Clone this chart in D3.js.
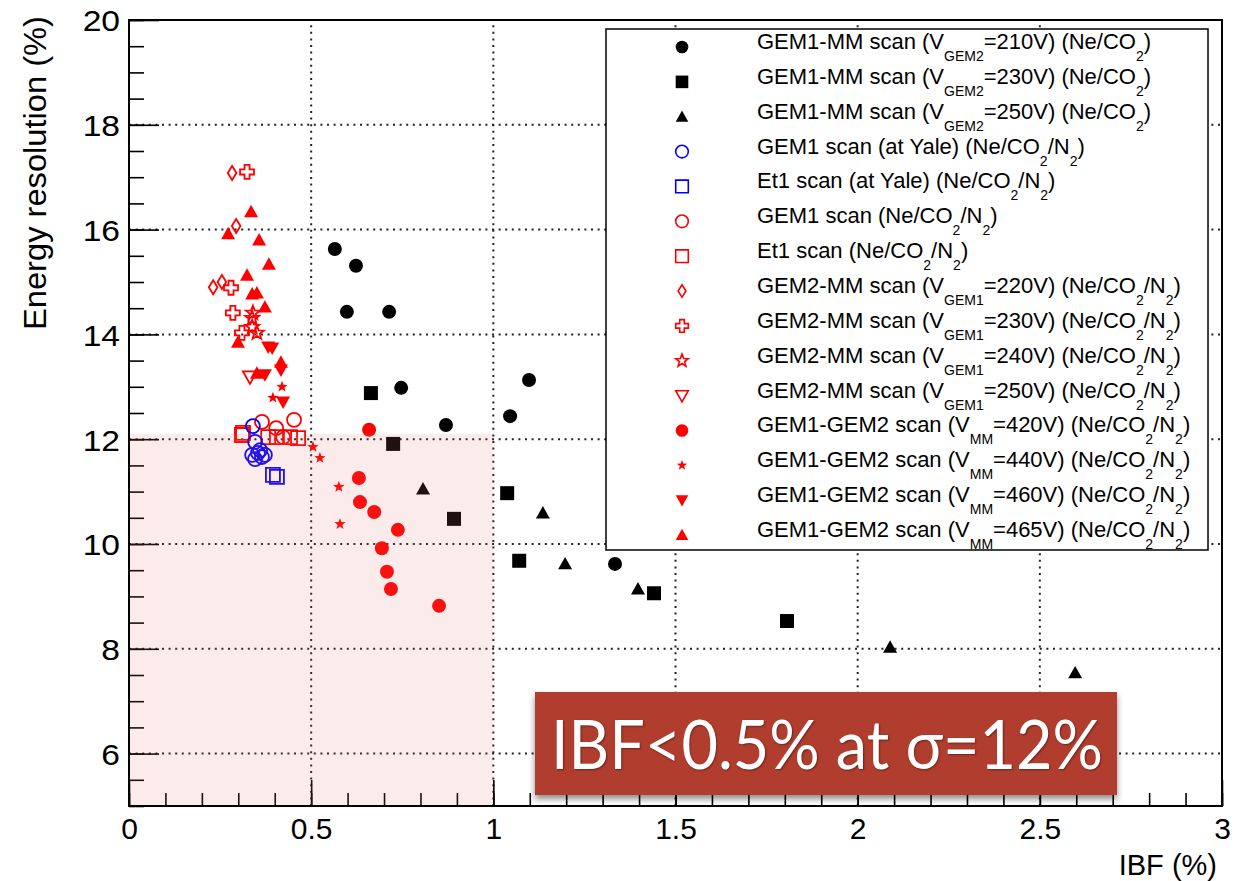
<!DOCTYPE html>
<html><head><meta charset="utf-8">
<script src="https://cdn.jsdelivr.net/npm/d3@7"></script>
<style>body{margin:0;background:#fff}svg{display:block}</style>
</head><body><svg id="c" width="1244" height="881"></svg>
<script>
// ---------- data ----------
const xTicks = [0, 0.5, 1, 1.5, 2, 2.5, 3];
const xTickLabels = ["0", "0.5", "1", "1.5", "2", "2.5", "3"];
const yTicks = [6, 8, 10, 12, 14, 16, 18, 20];
const yTickLabels = ["6", "8", "10", "12", "14", "16", "18", "20"];
const xTitle = "IBF (%)";
const yTitle = "Energy resolution (%)";
const boxText = "IBF<0.5% at \u03C3=12%";
const goodRegion = [[0, 5], [1, 12.1]];

const gem1mm210 = [[0.565,15.63],[0.623,15.31],[0.598,14.43],[0.714,14.43],[0.747,12.98],[0.870,12.27],[1.046,12.44],[1.098,13.13],[1.334,9.62]];
const gem1mm230 = [[0.664,12.88],[0.725,11.91],[0.892,10.48],[1.038,10.97],[1.071,9.68],[1.441,9.06],[1.806,8.53]];
const gem1mm250 = [[0.807,11.05],[1.136,10.59],[1.197,9.62],[1.397,9.14],[2.089,8.03],[2.597,7.54]];
const gem1Yale = [[0.340,12.25],[0.346,11.95],[0.338,11.70],[0.354,11.74],[0.365,11.66],[0.346,11.62],[0.373,11.70],[0.360,11.79]];
const et1Yale = [[0.395,11.32],[0.406,11.28]];
const gem1Scan = [[0.365,12.33],[0.404,12.21],[0.453,12.37],[0.423,12.04]];
const et1Scan = [[0.313,12.12],[0.310,12.08],[0.382,12.04],[0.406,12.04],[0.442,12.04],[0.464,12.02]];
const gem2mm220 = [[0.283,17.08],[0.294,16.07],[0.231,14.90],[0.255,15.0]];
const gem2mm230 = [[0.324,17.10],[0.280,14.89],[0.285,14.41],[0.310,14.03]];
const gem2mm240 = [[0.340,14.41],[0.338,14.31],[0.351,14.03],[0.338,14.14]];
const gem2mm250 = [[0.332,13.19]];
const gg420 = [[0.659,12.18],[0.631,11.26],[0.634,10.80],[0.673,10.61],[0.738,10.27],[0.694,9.92],[0.708,9.47],[0.719,9.14],[0.851,8.82]];
const gg440 = [[0.420,13.0],[0.395,12.79],[0.505,11.85],[0.524,11.64],[0.576,11.09],[0.579,10.38]];
const gg460 = [[0.382,13.76],[0.393,13.74],[0.417,13.32],[0.373,13.23],[0.423,12.71]];
const gg465 = [[0.335,16.34],[0.272,15.92],[0.357,15.80],[0.384,15.34],[0.324,15.13],[0.338,14.77],[0.351,14.79],[0.373,14.52],[0.299,13.85],[0.417,13.47],[0.351,13.26]];

const seriesLabels = [
  "GEM1-MM scan (V_{GEM2}=210V) (Ne/CO_{2})",
  "GEM1-MM scan (V_{GEM2}=230V) (Ne/CO_{2})",
  "GEM1-MM scan (V_{GEM2}=250V) (Ne/CO_{2})",
  "GEM1 scan (at Yale) (Ne/CO_{2}/N_{2})",
  "Et1 scan (at Yale) (Ne/CO_{2}/N_{2})",
  "GEM1 scan (Ne/CO_{2}/N_{2})",
  "Et1 scan (Ne/CO_{2}/N_{2})",
  "GEM2-MM scan (V_{GEM1}=220V) (Ne/CO_{2}/N_{2})",
  "GEM2-MM scan (V_{GEM1}=230V) (Ne/CO_{2}/N_{2})",
  "GEM2-MM scan (V_{GEM1}=240V) (Ne/CO_{2}/N_{2})",
  "GEM2-MM scan (V_{GEM1}=250V) (Ne/CO_{2}/N_{2})",
  "GEM1-GEM2 scan (V_{MM}=420V) (Ne/CO_{2}/N_{2})",
  "GEM1-GEM2 scan (V_{MM}=440V) (Ne/CO_{2}/N_{2})",
  "GEM1-GEM2 scan (V_{MM}=460V) (Ne/CO_{2}/N_{2})",
  "GEM1-GEM2 scan (V_{MM}=465V) (Ne/CO_{2}/N_{2})"
];
const seriesValues = [gem1mm210, gem1mm230, gem1mm250, gem1Yale, et1Yale, gem1Scan, et1Scan,
  gem2mm220, gem2mm230, gem2mm240, gem2mm250, gg420, gg440, gg460, gg465];
const seriesMarkers = ["circle","square","triUp","circle","square","circle","square",
  "diamond","cross","star","triDown","circle","smallStar","triDown","triUp"];
const seriesOpen = [false,false,false,true,true,true,true,true,true,true,true,false,false,false,false];
const seriesColors = ["#000","#000","#000","#0000ff","#0000ff","#ff0000","#ff0000",
  "#ff0000","#ff0000","#ff0000","#ff0000","#ff0000","#ff0000","#ff0000","#ff0000"];

// ---------- layout ----------
const svg = d3.select("#c");
const L = 129, R = 1222, T = 20, B = 806;
const x = d3.scaleLinear().domain([0, 3]).range([L, R]);
const y = d3.scaleLinear().domain([5, 20]).range([B, T]);
const FONT = "'Liberation Sans', Arial, Helvetica, sans-serif";

function markerPath(type, r) {
  switch (type) {
    case "circle": return `M${r},0A${r},${r} 0 1 1 ${-r},0A${r},${r} 0 1 1 ${r},0Z`;
    case "square": return `M${-r},${-r}H${r}V${r}H${-r}Z`;
    case "triUp": return `M0,${-r}L${r},${r*0.78}L${-r},${r*0.78}Z`;
    case "triDown": return `M0,${r}L${r},${-r*0.78}L${-r},${-r*0.78}Z`;
    case "diamond": { const w = r*0.62; return `M0,${-r}L${w},0L0,${r}L${-w},0Z`; }
    case "cross": { const a = r*0.36;
      return `M${-a},${-r}H${a}V${-a}H${r}V${a}H${a}V${r}H${-a}V${a}H${-r}V${-a}H${-a}Z`; }
    case "star": case "smallStar": {
      const ro = type === "star" ? r*1.05 : r*0.85, ri = ro*0.42; let p = "";
      for (let i = 0; i < 10; i++) {
        const ang = -Math.PI/2 + i*Math.PI/5, rr = i % 2 ? ri : ro;
        p += (i ? "L" : "M") + (rr*Math.cos(ang)).toFixed(2) + "," + (rr*Math.sin(ang)).toFixed(2);
      }
      return p + "Z"; }
  }
}

// ---------- grid ----------
const gridG = svg.append("g").attr("stroke", "#222").attr("stroke-width", 2)
  .attr("stroke-dasharray", "2,4.6");
gridG.selectAll("line.gx").data(xTicks.filter(d => d > 0 && d < 3)).join("line")
  .attr("x1", d => x(d)).attr("x2", d => x(d)).attr("y1", B).attr("y2", T);
gridG.selectAll("line.gy").data(yTicks.filter(d => d < 20)).join("line")
  .attr("y1", d => y(d)).attr("y2", d => y(d)).attr("x1", L).attr("x2", R);

// ---------- axes ----------
const xMinor = d3.range(0, 3.0001, 0.1);
const yMinor = d3.range(5, 20.0001, 0.5);
function styleAxis(g) {
  g.select(".domain").remove();
  g.selectAll(".tick line").attr("stroke", "#000").attr("stroke-width", 1.6);
  g.selectAll("text").attr("font-family", FONT).attr("font-size", 30).attr("fill", "#000");
}
svg.append("g").attr("transform", `translate(0,${B})`)
  .call(d3.axisBottom(x).tickValues(xMinor).tickSize(-13).tickFormat(""))
  .call(styleAxis).call(g => g.selectAll("text").remove());
svg.append("g").attr("transform", `translate(0,${B})`)
  .call(d3.axisBottom(x).tickValues(xTicks).tickSize(-26).tickPadding(10)
    .tickFormat((d, i) => xTickLabels[i]))
  .call(styleAxis)
  .call(g => g.selectAll("text").attr("dy", "0.78em"));
svg.append("g").attr("transform", `translate(${L},0)`)
  .call(d3.axisLeft(y).tickValues(yMinor).tickSize(-15).tickFormat(""))
  .call(styleAxis).call(g => g.selectAll("text").remove());
svg.append("g").attr("transform", `translate(${L},0)`)
  .call(d3.axisLeft(y).tickValues(yTicks).tickSize(-30).tickPadding(9)
    .tickFormat((d, i) => yTickLabels[i]))
  .call(styleAxis)
  .call(g => g.selectAll("text").attr("dy", "0.36em")
    .each(function () {
      const w = this.getComputedTextLength();
      d3.select(this).attr("textLength", w * 1.12).attr("lengthAdjust", "spacingAndGlyphs");
    }));

// frame
svg.append("rect").attr("x", L).attr("y", T).attr("width", R - L).attr("height", B - T)
  .attr("fill", "none").attr("stroke", "#000").attr("stroke-width", 2);

// titles
svg.append("text").attr("x", R - 5).attr("y", 875).attr("text-anchor", "end")
  .attr("font-family", FONT).attr("font-size", 29).text(xTitle);
svg.append("text").attr("transform", "translate(46,16) rotate(-90)").attr("text-anchor", "end")
  .attr("font-family", FONT).attr("font-size", 31)
  .attr("textLength", 314).attr("lengthAdjust", "spacingAndGlyphs").text(yTitle);

// ---------- data points ----------
const drawOrder = [0,1,2,5,6,7,8,9,10,11,12,13,14,3,4];
const ptsG = svg.append("g");
drawOrder.forEach(si => {
  ptsG.append("g").selectAll("path").data(seriesValues[si]).join("path")
    .attr("transform", d => `translate(${x(d[0])},${y(d[1])})`)
    .attr("d", markerPath(seriesMarkers[si], 7))
    .attr("fill", seriesOpen[si] ? "none" : seriesColors[si])
    .attr("stroke", seriesOpen[si] ? seriesColors[si] : "none")
    .attr("stroke-width", 1.8);
});

// shaded "good" region overlay
svg.append("rect")
  .attr("x", x(goodRegion[0][0]) + 1).attr("y", y(goodRegion[1][1]))
  .attr("width", x(goodRegion[1][0]) - x(goodRegion[0][0]) - 1)
  .attr("height", y(goodRegion[0][1]) - y(goodRegion[1][1]) - 1)
  .attr("fill", "rgb(230,115,115)").attr("fill-opacity", 0.14);

// ---------- legend ----------
const lg = svg.append("g");
lg.append("rect").attr("x", 606).attr("y", 29).attr("width", 602).attr("height", 521)
  .attr("fill", "#fff").attr("stroke", "#000").attr("stroke-width", 1.5);
const rowY = i => 47 + i * 34.86;
seriesLabels.forEach((lab, i) => {
  lg.append("path").attr("transform", `translate(682,${rowY(i)})`)
    .attr("d", markerPath(seriesMarkers[i], 6.3))
    .attr("fill", seriesOpen[i] ? "none" : seriesColors[i])
    .attr("stroke", seriesOpen[i] ? seriesColors[i] : "none").attr("stroke-width", 1.6);
  const t = lg.append("text").attr("x", 757).attr("y", rowY(i) + 2)
    .attr("font-family", FONT).attr("font-size", 22).attr("fill", "#000");
  const parts = lab.split(/(_\{[^}]*\})/).filter(s => s.length);
  let shift = 0;
  parts.forEach(p => {
    if (p.startsWith("_{")) {
      t.append("tspan").attr("dy", 12 - shift).attr("font-size", 14).text(p.slice(2, -1));
      shift = 12;
    } else {
      t.append("tspan").attr("dy", -shift).text(p);
      shift = 0;
    }
  });
});

// ---------- annotation box ----------
const defs = svg.append("defs");
const f = defs.append("filter").attr("id", "sh").attr("x", "-10%").attr("y", "-20%")
  .attr("width", "120%").attr("height", "150%");
f.append("feDropShadow").attr("dx", 0).attr("dy", 4).attr("stdDeviation", 3)
  .attr("flood-color", "#000").attr("flood-opacity", 0.45);
svg.append("rect").attr("x", 535).attr("y", 692).attr("width", 582).attr("height", 103)
  .attr("fill", "#b03e2f").attr("filter", "url(#sh)");
svg.append("text").attr("x", 551).attr("y", 769)
  .attr("font-family", "Lato, 'Open Sans', sans-serif").attr("font-size", 68)
  .attr("fill", "#fff").attr("textLength", 552).attr("lengthAdjust", "spacingAndGlyphs")
  .style("text-shadow", "1px 1px 2px rgba(0,0,0,0.4)")
  .text(boxText);
</script></body></html>
